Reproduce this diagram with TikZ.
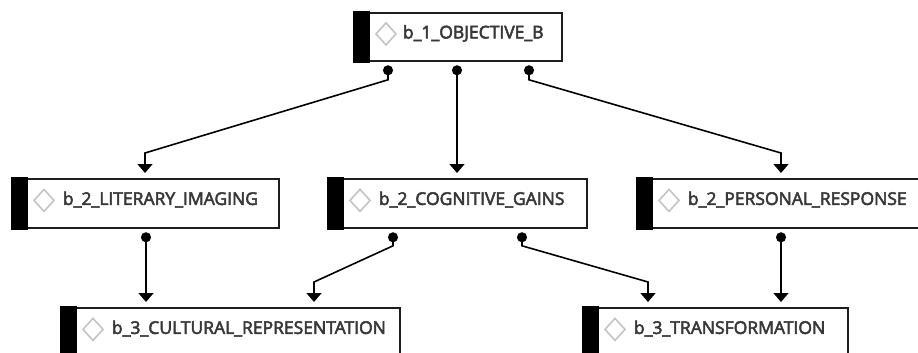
\documentclass[tikz,border=0pt]{standalone}
\usepackage{fontspec}
\setmainfont{Open Sans}
\newfontfamily\lblfont{Open Sans}[FakeBold=3]
\usetikzlibrary{calc,arrows.meta}
\definecolor{txtc}{HTML}{383838}
\definecolor{diac}{HTML}{C4C4C4}
\definecolor{bordc}{HTML}{1E1E1E}
\tikzset{
  ibox/.style={draw=bordc, line width=1.8pt, fill=white, anchor=north west,
    minimum height=49pt, inner xsep=0pt, inner ysep=0pt, text=txtc,
    font=\lblfont\fontsize{17.5}{20}\selectfont, text height=12pt, text depth=9pt,
    text width=#1, align=left},
  ibar/.style={fill=black},
  idia/.style={draw=diac, line width=1.6pt},
  conn/.style={line width=1.6pt, black, {Circle[length=10pt]}-{Triangle[width=15pt,length=9pt]}},
}
\begin{document}
\begin{tikzpicture}[x=1pt,y=-1pt]
\useasboundingbox (0,0) rectangle (918,353);
\clip (0,0) rectangle (918,353);
\node[ibox=207pt, minimum height=48pt] (b1) at (354,12) {\hspace*{48pt}b\_1\_OBJECTIVE\_B};
\node[ibox=266pt] (lit) at (12,178) {\hspace*{50pt}b\_2\_LITERARY\_IMAGING};
\node[ibox=258pt] (cog) at (328,178) {\hspace*{50pt}b\_2\_COGNITIVE\_GAINS};
\node[ibox=300pt] (per) at (637,178) {\hspace*{50pt}b\_2\_PERSONAL\_RESPONSE};
\node[ibox=338pt] (cul) at (61,307) {\hspace*{50pt}b\_3\_CULTURAL\_REPRESENTATION};
\node[ibox=264pt] (tra) at (583,307) {\hspace*{50pt}b\_3\_TRANSFORMATION};
\foreach \n in {b1,lit,cog,per,cul,tra}{
  \fill[ibar] ($(\n.north west)+(-0.9,-0.9)$) rectangle ($(\n.south west)+(16,0.9)$);
  \draw[idia] ($(\n.west)+(22,-3)$) -- ($(\n.west)+(32,-14)$) -- ($(\n.west)+(42,-3)$) -- ($(\n.west)+(32,8)$) -- cycle;
}
\draw[conn] ($(b1.south west)+(34,3.5)$) -- ($(b1.south west)+(34,18)$) -- ($(lit.north west)+(133,-25)$) -- ($(lit.north west)+(133,-5)$);
\draw[conn] ($(b1.south west)+(103,3.5)$) -- ($(cog.north west)+(129,-5)$);
\draw[conn] ($(b1.south west)+(175,3.5)$) -- ($(b1.south west)+(175,18)$) -- ($(per.north west)+(144,-25)$) -- ($(per.north west)+(144,-5)$);
\draw[conn] ($(lit.south west)+(134,3.5)$) -- ($(cul.north west)+(85,-5)$);
\draw[conn] ($(cog.south west)+(65,3.5)$) -- ($(cog.south west)+(65,17)$) -- ($(cul.north west)+(253,-25)$) -- ($(cul.north west)+(253,-5)$);
\draw[conn] ($(cog.south west)+(194,3.5)$) -- ($(cog.south west)+(194,17)$) -- ($(tra.north west)+(65,-25)$) -- ($(tra.north west)+(65,-5)$);
\draw[conn] ($(per.south west)+(144,3.5)$) -- ($(tra.north west)+(198,-5)$);
\end{tikzpicture}
\end{document}
